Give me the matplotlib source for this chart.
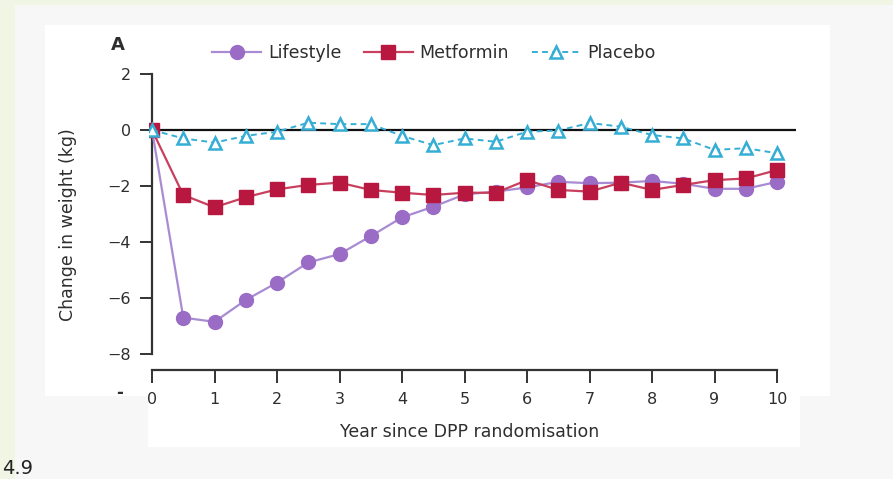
import numpy as np
import matplotlib
matplotlib.use("Agg")
import matplotlib.pyplot as plt
from matplotlib.patches import Rectangle

# Years since randomisation (half-yearly visits)
years = [0, 0.5, 1, 1.5, 2, 2.5, 3, 3.5, 4, 4.5, 5,
         5.5, 6, 6.5, 7, 7.5, 8, 8.5, 9, 9.5, 10]

# Mean change in weight (kg) by treatment group
lifestyle = [0, -6.7, -6.85, -6.07, -5.45, -4.73, -4.43, -3.79, -3.12, -2.74, -2.3,
             -2.2, -2.05, -1.85, -1.9, -1.88, -1.82, -1.92, -2.1, -2.1, -1.85]
metformin = [0, -2.32, -2.76, -2.4, -2.12, -1.96, -1.88, -2.14, -2.24, -2.32, -2.24,
             -2.24, -1.79, -2.14, -2.2, -1.88, -2.14, -1.96, -1.79, -1.73, -1.43]
placebo = [0, -0.3, -0.45, -0.21, -0.06, 0.26, 0.21, 0.21, -0.21, -0.54, -0.3,
           -0.42, -0.06, -0.02, 0.25, 0.12, -0.18, -0.3, -0.71, -0.65, -0.83]

x_ticks = [0, 1, 2, 3, 4, 5, 6, 7, 8, 9, 10]
y_ticks = [2, 0, -2, -4, -6, -8]

purple = "#9a6cc6"
purple_line = "#a88bd3"
crimson = "#b8173f"
crimson_line = "#c8405e"
cyan = "#35aed6"
text_col = "#2e2e2e"

W, H = 893, 479
fig = plt.figure(figsize=(W / 100, H / 100), dpi=100)
fig.patch.set_facecolor("#f1f5e4")

def px_rect(x0, y0, x1, y1, color):
    fig.patches.append(Rectangle((x0 / W, 1 - y1 / H), (x1 - x0) / W, (y1 - y0) / H,
                                 transform=fig.transFigure, facecolor=color,
                                 edgecolor="none", zorder=-10))

# Page backdrop panels
px_rect(15, 5, W, H, "#f7f7f7")
px_rect(45, 25, 830, 396, "white")
px_rect(148, 396, 800, 447, "white")

AX_L, AX_B, AX_W, AX_H = 148.9, 370, 646.9, 296
ax = fig.add_axes([AX_L / W, (H - AX_B) / H, AX_W / W, AX_H / H])
ax.set_facecolor("none")
ax.set_xlim(-0.05, 10.3)
ax.set_ylim(-8.57, 2)

ax.axhline(0, color="#111111", lw=1.6, zorder=1)

ax.plot(years, lifestyle, color=purple_line, lw=1.6, marker="o", ms=10,
        mfc=purple, mec=purple, label="Lifestyle", zorder=3)
ax.plot(years, metformin, color=crimson_line, lw=1.6, marker="s", ms=10.5,
        mfc=crimson, mec=crimson, label="Metformin", zorder=4)
ax.plot(years, placebo, color=cyan, lw=1.4, ls=(0, (3, 2.2)), marker="^", ms=9,
        mfc="white", mec=cyan, mew=1.8, label="Placebo", zorder=5)

for s in ["top", "right"]:
    ax.spines[s].set_visible(False)
ax.spines["left"].set_bounds(-8, 2)
ax.spines["bottom"].set_bounds(0, 10)
for s in ["left", "bottom"]:
    ax.spines[s].set_linewidth(1.6)
    ax.spines[s].set_color("#333333")
ax.spines["left"].set_position(("data", 0))

ax.set_xticks(x_ticks)
ax.set_xticklabels([str(t) for t in x_ticks])
ax.set_yticks(y_ticks)
ax.set_yticklabels([str(t).replace("-", "\u2212") for t in y_ticks])
ax.tick_params(axis="both", colors="#333333", width=1.4, length=9, labelsize=11.5,
               labelcolor=text_col)
ax.tick_params(axis="y", pad=6)
ax.tick_params(axis="x", pad=7)

ax.set_xlabel("Year since DPP randomisation", fontsize=12.5, color=text_col)
ax.xaxis.set_label_coords((470 - AX_L) / AX_W, (AX_B - 423) / AX_H)
ax.set_ylabel("Change in weight (kg)", fontsize=12.5, color=text_col)
ax.yaxis.set_label_coords((77 - AX_L) / AX_W, (AX_B - 225) / AX_H)

# Panel letter
fig.text(118 / W, 1 - 45 / H, "A", fontsize=13, fontweight="bold", color=text_col,
         ha="center", va="center")

# Stray dash left of the x-axis origin label
fig.text(120 / W, 1 - 393 / H, "-", fontsize=12, fontweight="bold", color=text_col,
         ha="center", va="center")

# Legend row across the top
ax.legend(loc="center", bbox_to_anchor=((434 - AX_L) / AX_W, (AX_B - 53) / AX_H),
          ncol=3, frameon=False, fontsize=12.5, handlelength=2.8,
          columnspacing=1.3, handletextpad=0.4, labelcolor=text_col)

# Page number fragment at the lower edge
fig.text(2 / W, 1 / H, "4.9", fontsize=14, color="#222222", ha="left", va="bottom")

fig.savefig("out.png", dpi=100, facecolor=fig.get_facecolor())
